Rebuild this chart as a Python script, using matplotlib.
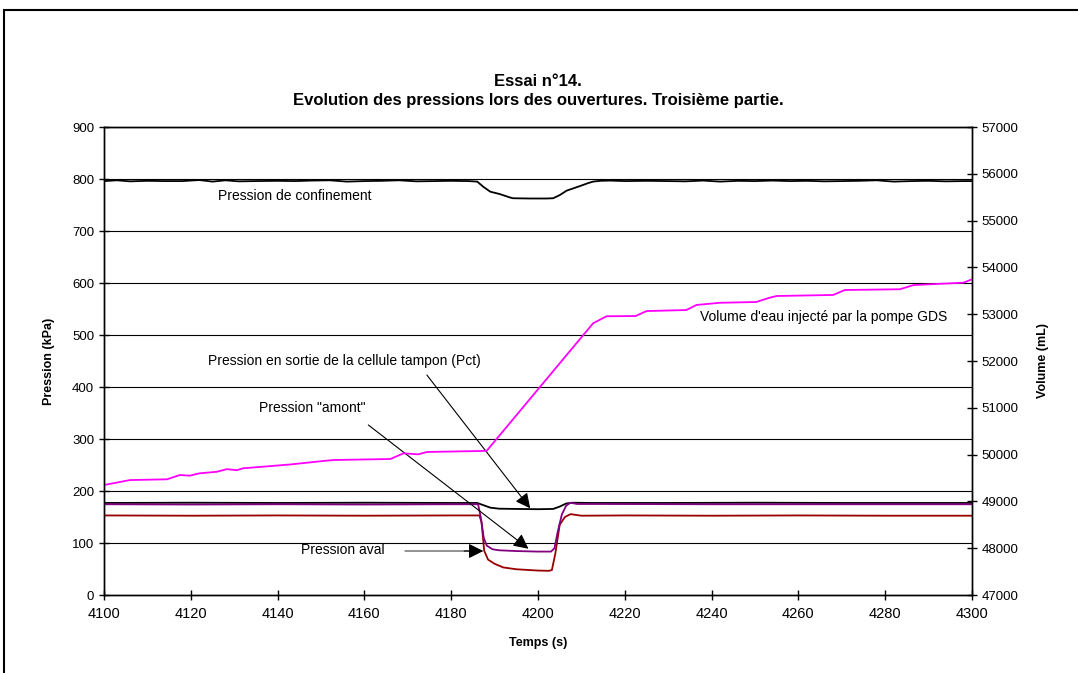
import numpy as np
import matplotlib
matplotlib.use("Agg")
import matplotlib.pyplot as plt
from matplotlib.patches import Rectangle

plt.rcParams["font.family"] = ["Liberation Sans", "DejaVu Sans"]

# Pression de confinement (kPa)
t_conf = [4100, 4103, 4106, 4110, 4114, 4118, 4122, 4125, 4128, 4131, 4135, 4140,
          4144, 4148, 4152, 4156, 4160, 4164, 4168, 4172, 4176, 4180, 4184, 4186,
          4187.4, 4189, 4191.2, 4193.5, 4194.2, 4198, 4202, 4203.5, 4205, 4206.6,
          4209.7, 4211.5, 4212.7, 4214.3, 4216.6, 4220, 4225, 4230, 4234, 4238,
          4242, 4246, 4250, 4254, 4258, 4262, 4266, 4270, 4274, 4278, 4282, 4286,
          4290, 4294, 4298, 4300]
p_conf = [796, 797.5, 795.5, 796.5, 796, 796, 798, 795, 797.5, 795.5, 796, 796.5,
          796, 797, 797.5, 795, 796, 796.5, 797.5, 795.5, 796, 796.5, 796, 795,
          785, 775.6, 771, 764.6, 763, 762.5, 762.5, 763, 769, 777.6,
          786.5, 792, 795, 796.5, 797, 796, 796.5, 796, 795.5, 797,
          795, 796.5, 796, 797, 796, 796.5, 795.5, 796, 796.5, 797.5, 795, 796,
          796.5, 795.5, 796, 796]

# Pression en sortie de la cellule tampon (Pct)
t_pct = [4100, 4120, 4140, 4160, 4180, 4186, 4187, 4189, 4191, 4195, 4200, 4203.5,
         4205, 4206.5, 4208, 4212, 4230, 4250, 4270, 4290, 4300]
p_pct = [177, 177.5, 177, 177.5, 177, 177, 174, 168, 166, 165.5, 165, 165.5,
         170, 176, 177.5, 177, 177, 177.5, 177, 177, 177]

# Pression "amont"
t_am = [4100, 4120, 4140, 4160, 4180, 4186.2, 4186.8, 4187.5, 4188.2, 4189.5, 4191,
        4195, 4200, 4203, 4203.8, 4204.5, 4205.5, 4206.5, 4207.5, 4209, 4215, 4240,
        4270, 4300]
p_am = [174.5, 174, 174.5, 174, 174.5, 174.5, 150, 110, 95, 88, 86,
        84.5, 83.5, 83.5, 90, 120, 155, 172, 177.5, 175, 175, 174.5,
        174.5, 174.5]

# Pression aval
t_av = [4100, 4120, 4140, 4160, 4180, 4186.5, 4187, 4187.6, 4188.5, 4190, 4192,
        4195, 4200, 4202.5, 4203.2, 4204, 4205, 4206.2, 4207.5, 4210, 4220, 4240,
        4260, 4280, 4300]
p_av = [153, 152.5, 153, 152.5, 153, 153, 140, 85, 68, 60, 53,
        49.5, 47, 46.5, 48, 80, 135, 150, 155.5, 152.5, 153, 152.5,
        153, 152.5, 152.5]

# Volume d'eau injecte (mL)
t_vol = [4100, 4106, 4114.5, 4117.5, 4119.8, 4122, 4126, 4128.3, 4130.6, 4132,
         4136.7, 4142.9, 4150.5, 4152.8, 4166, 4169, 4172.4, 4174.4, 4187.3, 4188.2,
         4212.7, 4215.8, 4222.5, 4225, 4234.2, 4236.5, 4241.9, 4250.3, 4253.4, 4255,
         4268, 4270.7, 4283.4, 4286.5, 4298, 4300]
v_vol = [49350, 49456, 49472, 49564, 49550, 49600, 49633, 49689, 49667, 49707,
         49742, 49789, 49863, 49884, 49906, 50027, 50006, 50056, 50078, 50083,
         52806, 52956, 52961, 53067, 53089, 53197, 53244, 53261, 53353, 53389,
         53411, 53517, 53533, 53622, 53673, 53744]

x_ticks = list(range(4100, 4301, 20))
p_ticks = list(range(0, 901, 100))
v_ticks = list(range(47000, 57001, 1000))

fig = plt.figure(figsize=(10.78, 6.73), dpi=100)
ax = fig.add_axes([104 / 1078, 78 / 673, 868 / 1078, 468 / 673])
ax2 = ax.twinx()

# cadre exterieur
fig.patches.append(Rectangle((4 / 1078, -0.2), 1.2, 1.2 - 10 / 673,
                             transform=fig.transFigure, fill=False,
                             edgecolor="black", lw=1.5))

ax.set_xlim(4100, 4300)
ax.set_ylim(0, 900)
ax2.set_ylim(47000, 57000)
ax.set_xticks(x_ticks)
ax.set_yticks(p_ticks)
ax2.set_yticks(v_ticks)

for y in p_ticks[1:]:
    ax.axhline(y, color="black", lw=0.8, zorder=1)

ax.plot(t_conf, p_conf, color="black", lw=1.3, zorder=3)
ax.plot(t_pct, p_pct, color="black", lw=1.3, zorder=3)
ax.plot(t_av, p_av, color="#990000", lw=1.3, zorder=3)
ax.plot(t_am, p_am, color="#800080", lw=1.3, zorder=4)
ax2.plot(t_vol, v_vol, color="#FF00FF", lw=1.3)

for a in (ax, ax2):
    a.tick_params(direction="inout", length=7, width=1, labelsize=9.5, colors="black")
    for s in a.spines.values():
        s.set_linewidth(1)
ax.tick_params(axis="x", pad=5, labelsize=10.5)

ax.set_xlabel("Temps (s)", fontsize=9, fontweight="bold", labelpad=12)
ax.set_ylabel("Pression (kPa)", fontsize=9, fontweight="bold", labelpad=12)
ax2.set_ylabel("Volume (mL)", fontsize=9, fontweight="bold", labelpad=13)

fig.text(538 / 1078, 1 - 82 / 673, "Essai n°14.", ha="center", va="center",
         fontsize=12, fontweight="bold")
fig.text(538 / 1078, 1 - 101 / 673, "Evolution des pressions lors des ouvertures. Troisième partie.",
         ha="center", va="center", fontsize=12, fontweight="bold")

fs = 10
ax.text(4144, 767, "Pression de confinement", ha="center", va="center", fontsize=fs)
ax.text(4265.7, 535, "Volume d'eau injecté par la pompe GDS", ha="center", va="center", fontsize=fs)
ax.text(4155.5, 450, "Pression en sortie de la cellule tampon (Pct)", ha="center",
        va="center", fontsize=fs)
ax.text(4148, 360, 'Pression "amont"', ha="center", va="center", fontsize=fs)
ax.text(4155, 86.5, "Pression aval", ha="center", va="center", fontsize=fs)

head = dict(arrowstyle="-|>,head_length=0.6,head_width=0.3", color="black",
            lw=0.8, mutation_scale=15, shrinkA=0, shrinkB=0)
ax.annotate("", xy=(4198.2, 166.7), xytext=(4174.4, 423), arrowprops=head, zorder=5)
ax.annotate("", xy=(4197.8, 89), xytext=(4160.9, 327), arrowprops=head, zorder=5)
ax.annotate("", xy=(4184.5, 84.6), xytext=(4169.4, 84.6),
            arrowprops=dict(arrowstyle="-", color="#808080", lw=1.2,
                            shrinkA=0, shrinkB=0), zorder=5)
ax.annotate("", xy=(4187.4, 84.6), xytext=(4183, 84.6), arrowprops=head, zorder=5)

fig.savefig("out.png", dpi=100)
